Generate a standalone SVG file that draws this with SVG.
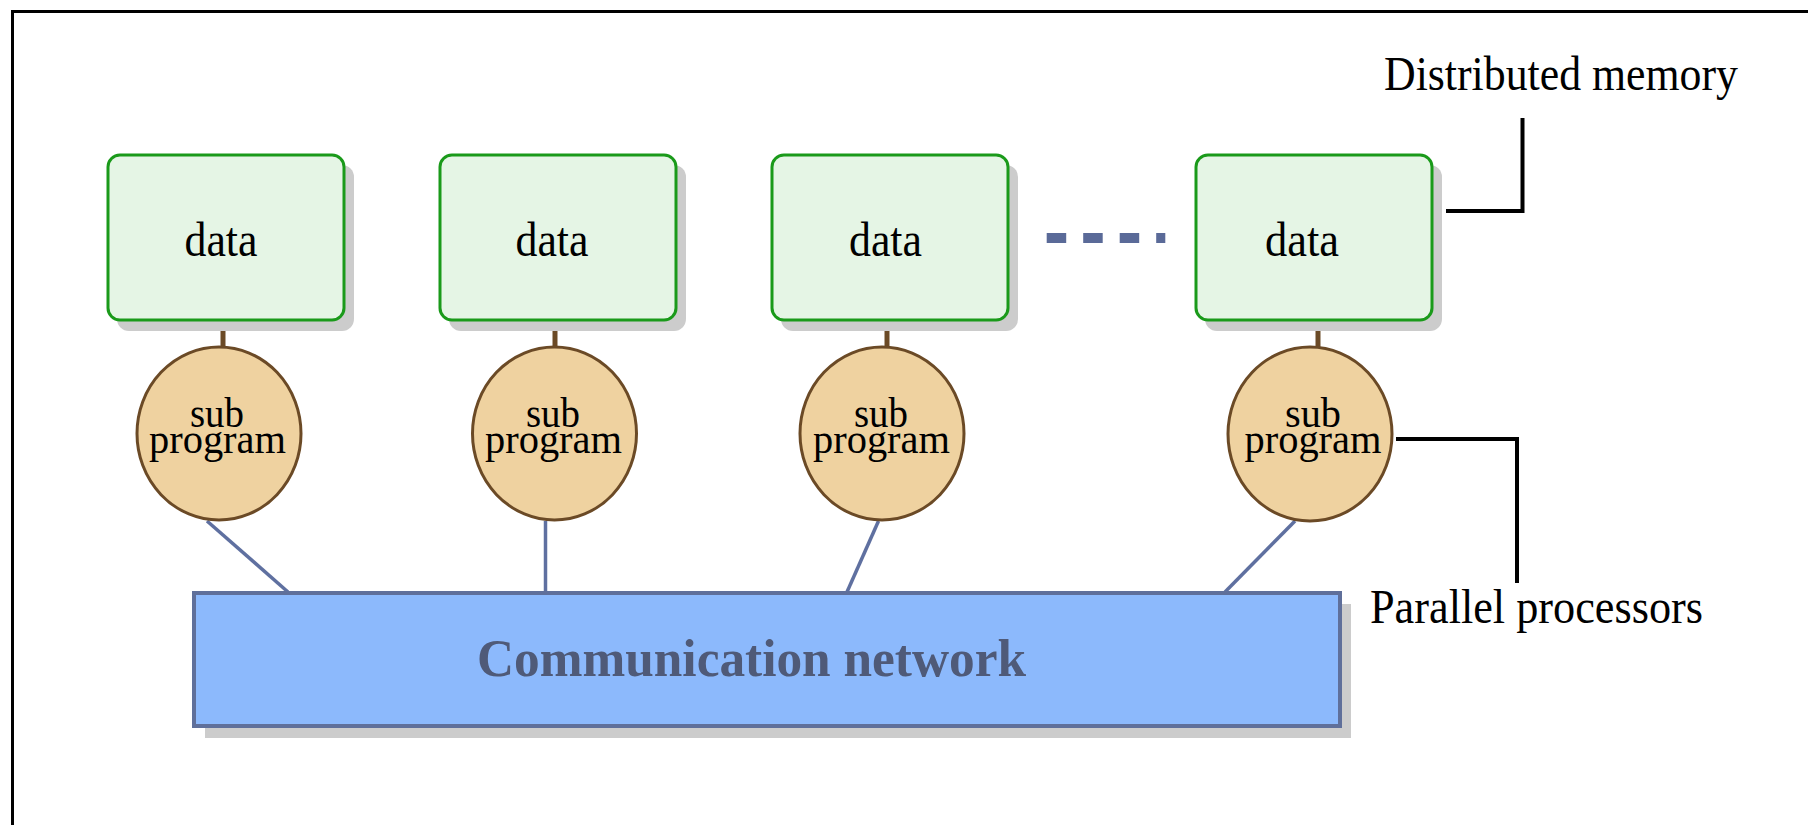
<svg xmlns="http://www.w3.org/2000/svg" width="1808" height="825" viewBox="0 0 1808 825">
  <style>
    .frame { fill: none; stroke: #000; stroke-width: 3; }
    .shadow { fill: #cccccc; }
    .mem { fill: #e5f5e5; stroke: #1a9a1a; stroke-width: 3; }
    .proc { fill: #efd2a0; stroke: #6b4a26; stroke-width: 3; }
    .stub { stroke: #6b4a26; stroke-width: 5; }
    .link { stroke: #5f70a0; stroke-width: 3.5; fill: none; }
    .net { fill: #8cb9fc; stroke: #5f6f9a; stroke-width: 4; }
    .leader { stroke: #000; stroke-width: 4; fill: none; }
    .dots { stroke: #5a6a98; stroke-width: 10; stroke-dasharray: 19.5 17; }
    text { font-family: "Liberation Serif", "Times New Roman", serif; fill: #000; }
    .lbl { font-size: 48px; }
    .sp { font-size: 42px; text-anchor: middle; }
    .netlbl { font-size: 52px; font-weight: bold; fill: #4f5a78; }
  </style>

  <!-- frame: top and left edges only -->
  <path class="frame" d="M1808,11.5 H12.5 V825"/>

  <!-- connectors -->
  <g id="connectors">
    <line class="stub" x1="223" y1="331" x2="223" y2="347"/>
    <line class="stub" x1="555" y1="331" x2="555" y2="347"/>
    <line class="stub" x1="887" y1="331" x2="887" y2="347"/>
    <line class="stub" x1="1318" y1="331" x2="1318" y2="347"/>
    <line class="link" x1="207" y1="521" x2="288" y2="592"/>
    <line class="link" x1="545.5" y1="521" x2="545.5" y2="592"/>
    <line class="link" x1="878.5" y1="521" x2="847" y2="592"/>
    <line class="link" x1="1295" y1="521" x2="1225" y2="592"/>
    <line class="dots" x1="1046.7" y1="238" x2="1165.3" y2="238"/>
    <path class="leader" d="M1446,211 H1522.5 V118"/>
    <path class="leader" d="M1396,439 H1517 V583"/>
  </g>

  <!-- distributed memory blocks -->
  <g id="data1">
    <rect class="shadow" x="117" y="165" width="237" height="166" rx="12"/>
    <rect class="mem" x="108" y="155" width="236" height="165" rx="12"/>
    <text class="lbl" x="184.5" y="256" textLength="73" lengthAdjust="spacingAndGlyphs">data</text>
  </g>
  <g id="data2">
    <rect class="shadow" x="449" y="165" width="237" height="166" rx="12"/>
    <rect class="mem" x="440" y="155" width="236" height="165" rx="12"/>
    <text class="lbl" x="515.5" y="256" textLength="73" lengthAdjust="spacingAndGlyphs">data</text>
  </g>
  <g id="data3">
    <rect class="shadow" x="781" y="165" width="237" height="166" rx="12"/>
    <rect class="mem" x="772" y="155" width="236" height="165" rx="12"/>
    <text class="lbl" x="849" y="256" textLength="73" lengthAdjust="spacingAndGlyphs">data</text>
  </g>
  <g id="data4">
    <rect class="shadow" x="1205" y="165" width="237" height="166" rx="12"/>
    <rect class="mem" x="1196" y="155" width="236" height="165" rx="12"/>
    <text class="lbl" x="1265" y="256" textLength="74" lengthAdjust="spacingAndGlyphs">data</text>
  </g>

  <!-- parallel processors -->
  <g id="proc1">
    <ellipse class="proc" cx="219" cy="433.5" rx="82" ry="86.5"/>
    <text class="sp" x="217" y="427" textLength="54" lengthAdjust="spacingAndGlyphs">sub</text>
    <text class="sp" x="217.5" y="453" textLength="137" lengthAdjust="spacingAndGlyphs">program</text>
  </g>
  <g id="proc2">
    <ellipse class="proc" cx="554.5" cy="433.5" rx="82" ry="86.5"/>
    <text class="sp" x="553" y="427" textLength="54" lengthAdjust="spacingAndGlyphs">sub</text>
    <text class="sp" x="553.5" y="453" textLength="137" lengthAdjust="spacingAndGlyphs">program</text>
  </g>
  <g id="proc3">
    <ellipse class="proc" cx="882" cy="433.5" rx="82" ry="86.5"/>
    <text class="sp" x="881" y="427" textLength="54" lengthAdjust="spacingAndGlyphs">sub</text>
    <text class="sp" x="881.5" y="453" textLength="137" lengthAdjust="spacingAndGlyphs">program</text>
  </g>
  <g id="proc4">
    <ellipse class="proc" cx="1310" cy="434" rx="82" ry="87"/>
    <text class="sp" x="1313" y="427" textLength="56" lengthAdjust="spacingAndGlyphs">sub</text>
    <text class="sp" x="1313" y="453" textLength="137" lengthAdjust="spacingAndGlyphs">program</text>
  </g>

  <!-- communication network -->
  <g id="network">
    <rect class="shadow" x="205" y="604" width="1146" height="134"/>
    <rect class="net" x="194" y="593" width="1146" height="133"/>
    <text class="netlbl" x="477" y="676" textLength="549" lengthAdjust="spacingAndGlyphs">Communication network</text>
  </g>

  <!-- annotations -->
  <g id="label-memory">
    <text class="lbl" x="1384" y="90" textLength="354" lengthAdjust="spacingAndGlyphs">Distributed memory</text>
  </g>
  <g id="label-processors">
    <text class="lbl" x="1370" y="623" textLength="333" lengthAdjust="spacingAndGlyphs">Parallel processors</text>
  </g>
</svg>
